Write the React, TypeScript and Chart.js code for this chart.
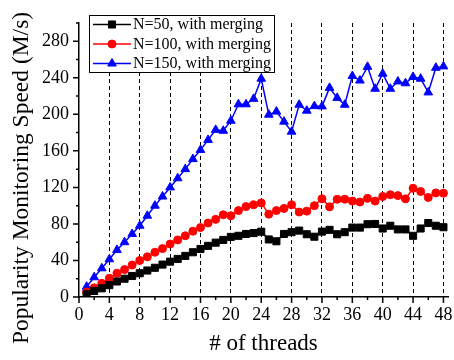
import React, { useEffect, useRef } from 'react';
import { Chart, registerables } from 'chart.js';
import { drawPoint } from 'chart.js/helpers';

Chart.register(...registerables);

const threads = [1, 2, 3, 4, 5, 6, 7, 8, 9, 10, 11, 12, 13, 14, 15, 16, 17, 18, 19, 20, 21, 22, 23, 24,
  25, 26, 27, 28, 29, 30, 31, 32, 33, 34, 35, 36, 37, 38, 39, 40, 41, 42, 43, 44, 45, 46, 47, 48];

const n50 = [3, 6.6, 9.5, 13, 17, 20, 23, 26, 29, 32, 35.5, 38.7, 41.7, 45, 49, 52.6, 56, 59.5, 62.5, 65.8, 67, 69, 70, 71.5,
  63, 61, 69, 71, 72.7, 68.7, 66, 71.6, 73.5, 68.7, 71, 76, 76, 79.7, 80, 75, 78, 74, 74, 67, 75, 81, 78, 76.4];

const n100 = [5.5, 10, 15, 20.5, 26, 30, 35, 40, 44, 49, 53, 58, 62.5, 67, 72, 76, 81, 85, 90, 89, 94.6, 99, 101, 103,
  90.7, 94.6, 97, 101, 93, 94, 100, 107.5, 98.7, 107, 107, 105, 104, 108, 105, 110, 112, 111, 107.5, 119, 115.5, 109, 114, 113.7];

const n150 = [11.3, 21.6, 31.4, 41.3, 51.5, 60, 69, 78, 89, 100, 110, 120, 130, 140, 151, 161, 172, 183, 182, 193, 211, 211, 217, 239,
  199.6, 203, 192, 181, 210.5, 204, 209, 208.7, 229, 218, 210.5, 242, 237, 252, 228, 244.5, 228, 236, 234, 241, 239, 224, 251, 252.5];

const seriesLabels = ['N=50, with merging', 'N=100, with merging', 'N=150, with merging'];
const xTitle = '# of threads';
const yTitle = 'Popularity Monitoring Speed (M/s)';

const FONT = '"Liberation Serif", "Times New Roman", serif';

const decorPlugin = {
  id: 'decor',
  afterDraw(chart: any) {
    const { ctx, chartArea } = chart;
    const xs = chart.scales.x;
    const ys = chart.scales.y;
    ctx.save();
    // tick marks (major + minor)
    ctx.strokeStyle = '#000';
    ctx.lineWidth = 1.5;
    ctx.beginPath();
    for (let v = 0; v <= 48; v += 2) {
      const px = xs.getPixelForValue(v);
      const len = v % 4 === 0 ? 6 : 3;
      ctx.moveTo(px, chartArea.bottom);
      ctx.lineTo(px, chartArea.bottom + len);
    }
    for (let v = 0; v <= 300; v += 20) {
      const py = ys.getPixelForValue(v);
      const len = v % 40 === 0 ? 6 : 3;
      ctx.moveTo(chartArea.left, py);
      ctx.lineTo(chartArea.left - len, py);
    }
    ctx.stroke();

    // y title
    ctx.save();
    ctx.translate(28, 178);
    ctx.rotate(-Math.PI / 2);
    ctx.fillStyle = '#000';
    ctx.font = `23.5px ${FONT}`;
    ctx.textAlign = 'center';
    ctx.textBaseline = 'alphabetic';
    ctx.fillText(yTitle, 0, 0);
    ctx.restore();

    // legend box
    const bx = 89.5, by = 15.5, bw = 185, bh = 57;
    ctx.fillStyle = '#fff';
    ctx.fillRect(bx, by, bw, bh);
    ctx.strokeStyle = '#000';
    ctx.lineWidth = 1;
    ctx.strokeRect(bx, by, bw, bh);
    chart.data.datasets.forEach((ds: any, i: number) => {
      const y = 24.5 + i * 19.5;
      ctx.strokeStyle = ds.borderColor;
      ctx.lineWidth = 1.5;
      ctx.beginPath();
      ctx.moveTo(93, y);
      ctx.lineTo(131, y);
      ctx.stroke();
      ctx.fillStyle = ds.backgroundColor;
      ctx.strokeStyle = ds.borderColor;
      ctx.lineWidth = 1;
      drawPoint(ctx, { pointStyle: ds.pointStyle, radius: ds.pointRadius, rotation: 0, borderWidth: 1 }, 112, y);
      ctx.fillStyle = '#000';
      ctx.font = `16px ${FONT}`;
      ctx.textAlign = 'left';
      ctx.textBaseline = 'middle';
      ctx.fillText(ds.label, 133, y + 0.5);
    });
    ctx.restore();
  },
};

export default function App() {
  const ref = useRef<HTMLCanvasElement | null>(null);
  useEffect(() => {
    if (!ref.current) return;
    const mk = (vals: number[]) => threads.map((t, i) => ({ x: t, y: vals[i] }));
    const chart = new Chart(ref.current, {
      type: 'line',
      data: {
        datasets: [
          { label: seriesLabels[0], data: mk(n50), borderColor: '#000000', backgroundColor: '#000000', pointStyle: 'rect', pointRadius: 5, pointBorderWidth: 1, borderWidth: 1.5 },
          { label: seriesLabels[1], data: mk(n100), borderColor: '#ff0000', backgroundColor: '#ff0000', pointStyle: 'circle', pointRadius: 4, pointBorderWidth: 1, borderWidth: 1.5 },
          { label: seriesLabels[2], data: mk(n150), borderColor: '#0000ff', backgroundColor: '#0000ff', pointStyle: 'triangle', pointRadius: 5, pointBorderWidth: 1, borderWidth: 1.5 },
        ],
      } as any,
      options: {
        animation: false,
        responsive: false,
        layout: { padding: { left: 0, top: 23, right: 2, bottom: 0 } },
        plugins: { legend: { display: false }, tooltip: { enabled: false } },
        elements: { line: { tension: 0 } },
        scales: {
          x: {
            type: 'linear',
            min: 0,
            max: 48.6,
            ticks: { stepSize: 4, includeBounds: false, color: '#000', font: { family: FONT, size: 18 }, padding: 7, maxRotation: 0, autoSkip: false },
            grid: {
              drawTicks: false,
              lineWidth: 1,
              color: (c: any) => (c.tick && c.tick.value === 0 ? 'rgba(0,0,0,0)' : '#000'),
            },
            border: { display: true, color: '#000', width: 1.5, dash: [4, 3] },
            title: { display: true, text: xTitle, color: '#000', font: { family: FONT, size: 23 }, padding: { top: 0, bottom: 2 } },
            afterFit: (s: any) => { s.height = 63; s.paddingLeft = 0; s.paddingRight = 0; },
          },
          y: {
            type: 'linear',
            min: 0,
            max: 300,
            ticks: { stepSize: 40, includeBounds: false, color: '#000', font: { family: FONT, size: 18 }, padding: 10 },
            grid: { display: false, drawTicks: false },
            border: { display: true, color: '#000', width: 1.5 },
            afterFit: (s: any) => { s.width = 79; s.paddingTop = 0; s.paddingBottom = 0; },
          },
        },
      } as any,
      plugins: [decorPlugin],
    });
    return () => chart.destroy();
  }, []);
  return (
    <div style={{ position: 'fixed', left: 0, top: 0, width: 454, height: 360, background: '#fff' }}>
      <canvas ref={ref} width={454} height={360} style={{ width: 454, height: 360 }} />
    </div>
  );
}
